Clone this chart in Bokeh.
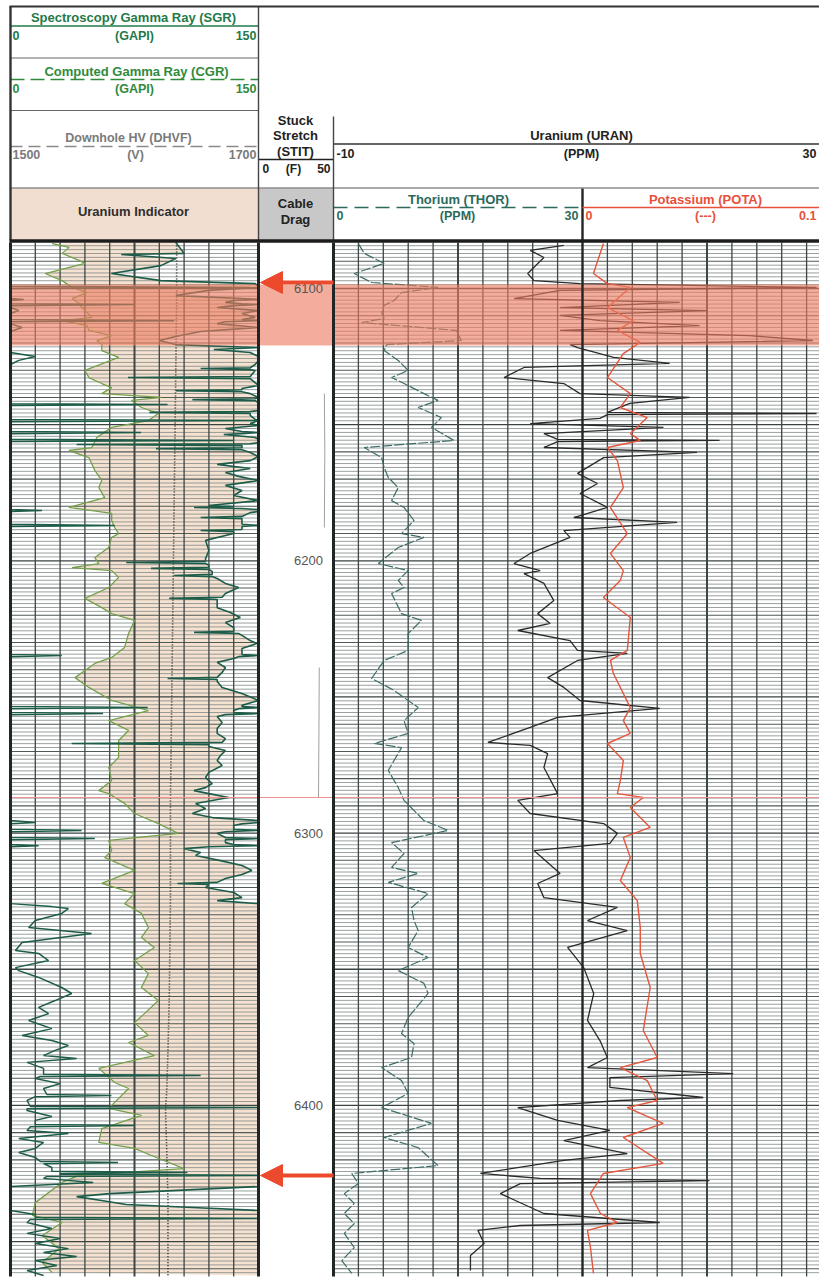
import math
import numpy as np
from bokeh.plotting import figure
from bokeh.models import Range1d, Arrow, NormalHead
from bokeh.core.properties import value
from bokeh.embed import file_html
from bokeh.resources import INLINE

# ---------------- curve readings (depth ft, value) ----------------
SGR_READINGS = [
    (6083.1, 100), (6087.1, 105), (6087.5, 67), (6089.0, 100), (6091.6, 91), (6094.5, 61), (6097.1, 91),
    (6098.2, 148), (6099.2, 150), (6099.6, 295), (6100.0, 140), (6100.7, 120), (6102.6, 100), (6103.7, 140),
    (6104.0, 158), (6104.4, 135), (6105.1, 130), (6105.6, 140), (6105.9, 225), (6106.3, 135), (6107.0, 125),
    (6108.1, 155), (6109.2, 140), (6110.6, 148), (6111.4, 140), (6111.8, 249), (6112.2, 130), (6112.9, 125),
    (6114.3, 157), (6115.8, 115), (6117.6, 100), (6119.1, 90), (6120.6, 100), (6121.7, 150), (6122.4, 123),
    (6123.5, 145), (6125.0, 165), (6126.4, 155), (6127.9, 148), (6129.1, 145), (6129.4, 115), (6129.8, 145),
    (6130.1, 148), (6132.3, 145), (6132.7, 71), (6133.1, 145), (6135.6, 150), (6136.7, 140), (6137.2, 140),
    (6137.5, 100), (6137.9, 140), (6138.6, 145), (6140.0, 150), (6140.5, 148), (6140.8, 110), (6141.2, 148),
    (6141.9, 150), (6142.3, 150), (6142.6, 245), (6143.0, 150), (6144.8, 150), (6145.2, 145), (6145.5, 84),
    (6145.9, 145), (6146.6, 145), (6148.1, 148), (6148.5, 300), (6148.9, 148), (6149.6, 145), (6150.3, 150),
    (6151.4, 130), (6152.5, 140), (6152.9, 229), (6153.3, 140), (6153.6, 129), (6154.7, 148), (6155.4, 150),
    (6155.8, 285), (6156.2, 150), (6156.6, 150), (6157.0, 145), (6157.3, 40), (6157.7, 140), (6158.0, 140),
    (6158.5, 140), (6158.8, 88), (6159.2, 140), (6160.2, 145), (6161.7, 150), (6163.2, 145), (6164.6, 125),
    (6166.1, 145), (6167.6, 130), (6169.0, 138), (6170.5, 150), (6172.3, 130), (6174.2, 140), (6176.0, 135),
    (6177.9, 150), (6179.7, 120), (6180.1, 135), (6180.4, 111), (6180.8, 140), (6181.2, 150), (6181.5, 169),
    (6181.9, 150), (6182.3, 145), (6183.7, 140), (6184.1, 115), (6184.5, 140), (6185.2, 140), (6186.6, 140),
    (6187.0, 213), (6187.4, 140), (6187.8, 140), (6188.5, 140), (6188.9, 115), (6189.3, 135), (6190.0, 135),
    (6192.5, 118), (6196.2, 120), (6199.2, 118), (6200.2, 118), (6200.6, 70), (6201.0, 118), (6201.7, 120),
    (6202.4, 120), (6202.8, 85), (6203.2, 120), (6203.9, 122), (6205.0, 122), (6205.4, 99), (6205.8, 122),
    (6206.5, 125), (6208.3, 130), (6209.8, 138), (6212.0, 130), (6213.4, 128), (6213.8, 96), (6214.2, 125),
    (6215.0, 125), (6217.2, 125), (6219.0, 133), (6220.8, 139), (6222.7, 130), (6224.5, 135), (6225.9, 135),
    (6226.3, 111), (6226.7, 138), (6227.4, 140), (6229.3, 145), (6230.4, 149), (6232.2, 140), (6234.4, 140),
    (6234.8, 181), (6235.2, 138), (6235.9, 135), (6237.3, 125), (6239.2, 130), (6241.0, 128), (6242.8, 125),
    (6243.2, 95), (6243.6, 125), (6244.3, 125), (6246.5, 128), (6248.7, 140), (6251.3, 150), (6253.1, 140),
    (6253.5, 140), (6253.9, 233), (6254.3, 138), (6255.0, 135), (6255.7, 135), (6256.1, 206), (6256.5, 130),
    (6257.2, 125), (6259.4, 128), (6261.6, 125), (6263.4, 125), (6265.3, 130), (6266.7, 128), (6267.1, 37),
    (6267.5, 120), (6268.2, 120), (6269.7, 130), (6271.5, 127), (6273.3, 125), (6275.2, 128), (6277.7, 120),
    (6279.6, 118), (6281.8, 122), (6283.3, 118), (6284.4, 111), (6285.5, 120), (6286.9, 132), (6289.1, 112),
    (6291.0, 118), (6292.8, 110), (6294.3, 122), (6295.4, 150), (6296.1, 165), (6296.6, 140), (6297.2, 135),
    (6298.6, 135), (6299.0, 193), (6299.5, 130), (6300.1, 125), (6301.6, 130), (6302.0, 201), (6302.4, 130),
    (6303.5, 130), (6304.2, 135), (6304.6, 167), (6305.0, 120), (6305.7, 105), (6307.1, 115), (6308.2, 112),
    (6310.1, 127), (6311.9, 140), (6313.7, 146), (6315.2, 140), (6316.7, 130), (6318.1, 125), (6318.5, 101),
    (6318.9, 120), (6320.0, 118), (6321.8, 135), (6323.7, 140), (6324.8, 125), (6325.9, 150), (6327.0, 175),
    (6327.7, 185), (6329.5, 181), (6332.1, 165), (6334.7, 161), (6336.9, 199), (6340.2, 157), (6343.1, 153),
    (6344.2, 167), (6346.8, 173), (6349.4, 153), (6350.5, 155), (6353.0, 167), (6356.7, 181), (6358.9, 187),
    (6361.5, 177), (6364.0, 167), (6366.3, 173), (6368.8, 161), (6371.8, 175), (6374.3, 157), (6376.2, 175),
    (6378.0, 185), (6379.8, 177), (6381.7, 170), (6382.8, 190), (6384.2, 160), (6386.4, 170), (6388.6, 170),
    (6389.0, 265), (6389.4, 168), (6390.1, 165), (6392.0, 180), (6393.8, 170), (6396.0, 172), (6396.4, 211),
    (6396.8, 165), (6398.2, 160), (6400.4, 162), (6400.8, 300), (6401.2, 160), (6401.9, 160), (6404.1, 175),
    (6405.5, 165), (6407.0, 165), (6407.4, 225), (6407.8, 162), (6409.2, 160), (6410.3, 185), (6412.2, 155),
    (6413.6, 170), (6415.8, 165), (6417.3, 155), (6419.1, 165), (6420.6, 168), (6421.0, 215), (6421.4, 170),
    (6422.8, 175), (6424.2, 175), (6424.6, 257), (6425.0, 180), (6425.3, 180), (6425.7, 300), (6426.1, 172),
    (6426.8, 170), (6428.3, 200), (6429.8, 150), (6432.4, 60), (6433.5, 40), (6434.9, 55), (6436.4, 70),
    (6437.5, 110), (6438.6, 150), (6440.1, 165), (6441.1, 165), (6441.5, 300), (6441.9, 162), (6443.0, 160),
    (6445.2, 175), (6447.0, 160), (6448.9, 180), (6450.7, 165), (6452.6, 185), (6454.0, 170), (6455.5, 190),
    (6457.0, 165), (6458.8, 178), (6460.6, 160), (6462.5, 170),
]

CGR_READINGS = [
    (6083.5, 25.2), (6084.9, 35.4), (6087.1, 31.2), (6089.7, 41.4), (6090.8, 45.0), (6094.5, 21.0), (6097.1, 31.2),
    (6099.6, 37.2), (6101.5, 46.2), (6103.7, 37.2), (6105.5, 41.4), (6107.0, 43.2), (6108.8, 46.2), (6110.6, 49.2),
    (6111.8, 31.2), (6113.6, 46.2), (6115.4, 47.4), (6117.3, 61.2), (6119.1, 52.2), (6120.6, 55.2), (6122.8, 55.2),
    (6125.3, 65.4), (6130.1, 45.0), (6132.7, 47.4), (6134.9, 55.2), (6136.4, 61.2), (6138.6, 55.2), (6140.0, 91.2),
    (6141.1, 73.2), (6143.7, 79.2), (6145.9, 89.4), (6148.5, 83.4), (6151.0, 61.2), (6154.7, 52.2), (6158.4, 49.2),
    (6159.5, 35.4), (6162.1, 47.4), (6166.8, 51.0), (6170.5, 55.2), (6173.1, 53.4), (6176.8, 57.0), (6180.4, 35.4),
    (6182.6, 61.2), (6185.2, 61.2), (6187.8, 63.0), (6190.0, 65.4), (6191.4, 61.2), (6195.1, 59.4), (6198.8, 51.0),
    (6201.0, 53.4), (6202.5, 37.2), (6203.6, 61.2), (6206.1, 65.4), (6209.8, 59.4), (6213.8, 45.0), (6217.2, 55.2),
    (6219.4, 61.2), (6221.9, 75.0), (6226.7, 71.4), (6231.8, 69.0), (6235.5, 61.2), (6237.7, 51.0), (6242.9, 39.0),
    (6246.5, 47.4), (6251.3, 61.2), (6255.0, 83.4), (6258.7, 59.4), (6262.3, 71.4), (6266.0, 65.4), (6272.2, 65.4),
    (6275.9, 59.4), (6280.7, 61.2), (6284.4, 53.4), (6285.5, 59.4), (6289.1, 69.0), (6292.8, 75.0), (6296.5, 89.4),
    (6300.1, 101.4), (6302.7, 59.4), (6306.4, 61.2), (6309.0, 57.0), (6313.7, 75.0), (6318.5, 55.2), (6322.2, 75.0),
    (6325.9, 69.0), (6329.5, 79.2), (6334.7, 83.4), (6338.3, 79.2), (6342.0, 87.0), (6346.8, 75.0), (6351.6, 83.4),
    (6356.7, 79.2), (6361.5, 89.4), (6366.3, 81.0), (6369.6, 75.0), (6374.3, 83.4), (6376.9, 71.4), (6381.7, 87.0),
    (6386.4, 53.4), (6391.6, 63.0), (6393.8, 71.4), (6401.1, 59.4), (6403.7, 79.2), (6408.5, 55.2), (6413.6, 53.4),
    (6415.8, 75.0), (6418.4, 85.2), (6423.2, 105.0), (6425.7, 41.4), (6428.3, 31.2), (6435.7, 15.0), (6440.4, 13.2),
    (6443.0, 31.2), (6447.8, 19.2), (6452.6, 29.4), (6457.7, 19.2), (6461.4, 25.2),
]

DHVF_READINGS = [
    (6083.1, 1634), (6104.4, 1634), (6141.1, 1633), (6177.9, 1632), (6214.6, 1631), (6251.3, 1630),
    (6288.0, 1629), (6324.8, 1629), (6361.5, 1628), (6379.8, 1627), (6394.5, 1626), (6401.9, 1625),
    (6416.6, 1626), (6434.9, 1627), (6462.5, 1627),
]

STIT_RUN_1 = [(6138.6, 43.9), (6160.0, 44.2), (6187.8, 43.9)]
STIT_RUN_2 = [(6239.2, 40.5), (6262.0, 40.3), (6286.9, 40.0)]

THOR_READINGS = [
    (6083.5, 3.0), (6087.1, 3.7), (6090.8, 6.1), (6094.5, 2.5), (6097.8, 4.6), (6099.6, 12.6), (6101.5, 8.2),
    (6104.4, 7.3), (6106.2, 6.1), (6108.8, 5.8), (6111.0, 6.1), (6112.5, 3.4), (6115.4, 14.8), (6119.1, 15.4),
    (6120.6, 6.4), (6122.8, 6.1), (6126.4, 7.8), (6130.1, 9.0), (6132.7, 7.0), (6134.9, 8.5), (6138.6, 10.9),
    (6141.1, 12.6), (6143.7, 10.2), (6147.4, 13.0), (6151.0, 11.8), (6155.8, 14.5), (6158.4, 3.7), (6162.1, 5.8),
    (6165.7, 6.1), (6169.4, 6.6), (6173.1, 7.8), (6177.9, 7.0), (6180.4, 8.5), (6185.2, 9.7), (6190.0, 8.2),
    (6191.4, 10.9), (6195.1, 7.8), (6201.0, 5.4), (6203.6, 9.0), (6207.2, 7.8), (6209.8, 8.5), (6212.0, 7.0),
    (6219.4, 8.2), (6221.9, 10.6), (6226.7, 9.0), (6232.9, 9.0), (6236.6, 6.1), (6243.2, 4.6), (6247.6, 7.3),
    (6253.9, 10.2), (6258.7, 8.5), (6263.4, 9.0), (6267.1, 4.9), (6268.6, 8.2), (6277.0, 6.6), (6283.3, 7.8),
    (6288.0, 8.5), (6295.4, 10.9), (6299.0, 13.8), (6303.5, 7.0), (6307.5, 8.5), (6312.6, 7.0), (6314.8, 10.2),
    (6318.1, 6.6), (6322.2, 11.4), (6327.3, 9.4), (6332.1, 9.7), (6335.8, 10.2), (6342.0, 9.0), (6345.7, 11.4),
    (6350.5, 7.8), (6355.2, 10.9), (6358.9, 11.4), (6367.7, 9.0), (6373.6, 8.2), (6377.3, 9.7), (6382.4, 9.4),
    (6386.1, 5.8), (6390.9, 8.2), (6395.6, 9.0), (6400.8, 5.8), (6406.6, 11.8), (6411.8, 6.1), (6415.5, 10.2),
    (6422.1, 12.6), (6425.0, 2.2), (6428.7, 3.0), (6432.4, 1.3), (6436.0, 2.5), (6439.7, 1.3), (6443.4, 2.5),
    (6447.0, 1.3), (6452.2, 2.5), (6457.0, 1.0), (6461.7, 2.2),
]

URAN_READINGS = [
    (6084.2, 8.5), (6086.0, 5.8), (6088.6, 6.9), (6094.5, 5.6), (6097.1, 6.1), (6098.2, 9.8), (6099.6, 28.8),
    (6100.7, 8.2), (6103.7, 4.5), (6105.1, 17.8), (6107.0, 8.2), (6108.1, 20.0), (6109.9, 8.2), (6111.8, 11.4),
    (6113.6, 19.4), (6115.4, 8.2), (6117.3, 23.4), (6119.1, 28.5), (6120.6, 9.0), (6121.7, 9.6), (6125.3, 12.5),
    (6127.5, 17.0), (6129.0, 5.3), (6132.7, 3.7), (6134.9, 8.5), (6138.6, 9.8), (6140.0, 18.6), (6142.2, 13.8),
    (6145.5, 12.0), (6145.9, 28.8), (6146.3, 12.0), (6147.7, 11.4), (6149.6, 5.8), (6151.0, 16.5), (6153.3, 6.9),
    (6155.4, 8.0), (6155.8, 21.0), (6156.2, 8.0), (6158.4, 6.9), (6160.2, 19.2), (6162.1, 11.7), (6167.9, 9.6),
    (6171.6, 11.2), (6175.3, 9.8), (6180.4, 12.0), (6184.1, 9.3), (6185.9, 17.6), (6188.9, 8.5), (6191.4, 9.0),
    (6197.3, 5.8), (6201.0, 4.5), (6203.6, 6.6), (6204.7, 5.3), (6208.3, 6.9), (6214.6, 7.7), (6219.4, 6.4),
    (6223.0, 7.4), (6225.6, 4.8), (6229.3, 9.0), (6232.9, 9.6), (6234.0, 13.6), (6236.6, 9.6), (6242.9, 7.2),
    (6246.5, 8.5), (6251.3, 9.8), (6254.2, 16.2), (6257.5, 8.0), (6261.2, 5.8), (6266.7, 2.4), (6267.8, 5.8),
    (6270.8, 7.2), (6275.9, 6.9), (6285.5, 8.0), (6288.0, 4.8), (6292.8, 5.8), (6296.5, 11.7), (6300.1, 12.8),
    (6303.8, 12.2), (6306.4, 6.1), (6314.8, 8.2), (6318.5, 6.4), (6323.7, 6.9), (6327.3, 12.8), (6332.1, 10.4),
    (6335.8, 13.6), (6342.0, 8.8), (6349.4, 10.1), (6358.9, 10.9), (6368.8, 10.4), (6376.2, 11.4), (6382.4, 12.0),
    (6386.1, 10.4), (6388.3, 22.1), (6389.8, 12.2), (6393.4, 12.2), (6397.1, 19.7), (6398.2, 13.0), (6400.8, 4.8),
    (6405.5, 8.0), (6409.2, 12.2), (6412.9, 8.5), (6417.7, 13.6), (6420.2, 8.5), (6425.0, 1.8), (6426.8, 6.6),
    (6427.6, 20.2), (6428.7, 5.0), (6432.4, 3.4), (6439.7, 6.9), (6443.0, 16.2), (6444.1, 5.0), (6445.9, 1.6),
    (6450.7, 2.1), (6455.1, 1.0), (6460.6, 1.0),
]

POTA_READINGS = [
    (6083.5, .0084), (6094.5, .0044), (6098.2, .0100), (6099.6, .0192), (6107.0, .0100), (6111.8, .0204),
    (6115.4, .0140), (6119.8, .0232), (6123.9, .0164), (6132.7, .0100), (6138.6, .0192), (6143.7, .0152),
    (6147.4, .0260), (6153.3, .0192), (6155.8, .0232), (6158.4, .0100), (6163.2, .0140), (6173.1, .0164),
    (6180.4, .0112), (6190.0, .0180), (6197.3, .0112), (6203.6, .0164), (6207.2, .0152), (6213.5, .0084),
    (6220.8, .0192), (6232.9, .0180), (6236.6, .0112), (6241.4, .0124), (6253.9, .0192), (6258.7, .0164),
    (6263.4, .0192), (6267.1, .0100), (6273.3, .0164), (6280.7, .0152), (6285.5, .0140), (6286.9, .0244),
    (6290.6, .0192), (6297.9, .0272), (6301.6, .0164), (6309.0, .0192), (6317.4, .0152), (6324.8, .0220),
    (6334.7, .0232), (6344.2, .0232), (6356.7, .0272), (6372.5, .0244), (6382.4, .0300), (6386.1, .0152),
    (6390.9, .0260), (6398.2, .0300), (6400.8, .0180), (6406.6, .0324), (6411.8, .0164), (6421.3, .0324),
    (6425.0, .0084), (6432.4, .0032), (6439.7, .0072), (6443.0, .0140), (6445.9, .0020), (6452.2, .0032),
    (6461.7, .0044),
]

DEPTH_LABELS = [6100, 6200, 6300, 6400]

# curve scales (left, right)
GR_SCALE = (0, 150)
DHVF_SCALE = (1500, 1700)
STIT_SCALE = (0, 50)
THOR_SCALE = (0, 30)
URAN_SCALE = (-10, 30)
POTA_SCALE = (0, 0.1)

# ---------------- layout ----------------
W, H = 819, 1281
BODY_TOP, BODY_BOT = 242, 1276
ANCHOR_PX, ANCHOR_D, PX_PER_FT = 288, 6100.0, 2.723
T1 = (10, 258)
TD = (258, 333)
T2 = (333, 582)
T3 = (582, 831)
T23 = (333, 831)

FONT = value("Liberation Sans")
SGR_C, CGR_C = "#1d5c48", "#74a04a"
THOR_C, URAN_C, POTA_C = "#3d6c66", "#2a2a2a", "#e4553b"
PEACH = "#f5e2d1"
RED = "#ec4a2c"
GRID_C = "#3c4644"


def depth_at(px):
    return ANCHOR_D + (px - ANCHOR_PX) / PX_PER_FT


def track_range(scale, span):
    lo, hi = scale
    p0, p1 = span
    s = (hi - lo) / (p1 - p0)
    return Range1d(lo - p0 * s, lo + (W - p0) * s)


def unzip(pairs):
    return (np.array([a for a, _ in pairs], dtype=float),
            np.array([b for _, b in pairs], dtype=float))


p = figure(width=W, height=H, x_range=Range1d(0, W),
           y_range=Range1d(depth_at(H), depth_at(0)),
           output_backend="svg", toolbar_location=None, min_border=0,
           x_axis_location=None, y_axis_location=None,
           background_fill_color="white", border_fill_color="white")
p.grid.visible = False
p.outline_line_color = None
p.extra_y_ranges = {"px": Range1d(H, 0)}
p.extra_x_ranges = {
    "gr": track_range(GR_SCALE, T1),
    "hv": track_range(DHVF_SCALE, T1),
    "st": track_range(STIT_SCALE, TD),
    "th": track_range(THOR_SCALE, T2),
    "ur": track_range(URAN_SCALE, T23),
    "k": track_range(POTA_SCALE, T3),
}


def seg(x0, x1, y0, y1, color, w, dash="solid", rng="px", alpha=1.0):
    p.segment(x0=x0, x1=x1, y0=y0, y1=y1, y_range_name=rng,
              line_color=color, line_width=w, line_dash=dash, line_alpha=alpha)


def txt(x, y, s, color, size="13px", align="center", style="bold"):
    p.text(x=[x], y=[y], text=[s], y_range_name="px", text_font=FONT,
           text_font_size=size, text_font_style=style, text_color=color,
           text_align=align, text_baseline="middle")


sgr_d, sgr_v = unzip(SGR_READINGS)
cgr_d, cgr_v = unzip(CGR_READINGS)
sgr_main = np.clip(sgr_v, GR_SCALE[0], GR_SCALE[1])
sgr_back = np.clip(sgr_v - GR_SCALE[1], GR_SCALE[0], GR_SCALE[1])

# uranium indicator: area between CGR and SGR
p.patch(x=np.concatenate([cgr_v, sgr_main[::-1]]), y=np.concatenate([cgr_d, sgr_d[::-1]]),
        x_range_name="gr", fill_color=PEACH, line_color=None)

# ---------------- depth grid ----------------
d_top, d_bot = depth_at(BODY_TOP), depth_at(BODY_BOT)
MINOR_PER_10 = 7
step = 10.0 / MINOR_PER_10
k0 = math.ceil((d_top - 6000) / step)
k1 = math.floor((d_bot - 6000) / step)
minor = [6000 + k * step for k in range(k0, k1 + 1) if k % MINOR_PER_10 != 0]
tens = [float(d) for d in range(6090, 6470, 10) if d_top < d < d_bot and d % 50 != 0]
fifties = [float(d) for d in range(6100, 6470, 50) if d_top < d < d_bot]
for ys, col, w in ((minor, "#7f8887", 0.8), (tens, "#4f5958", 1.05), (fifties, "#3a4342", 1.3)):
    n = len(ys)
    seg([T1[0]] * n, [T1[1]] * n, ys, ys, col, w, rng="default")
    seg([T23[0]] * n, [W] * n, ys, ys, col, w, rng="default")

# vertical grid
t1_step = (T1[1] - T1[0]) / 10
v1 = [T1[0] + t1_step * k for k in range(1, 10)]
t2_step = (T2[1] - T2[0]) / 10
v2 = [T2[0] + t2_step * k for k in range(1, 20) if k != 10]
heavy = [T1[0] + t1_step * 5, T2[0] + t2_step * 5, T2[0] + t2_step * 15]
light = [x for x in v1 + v2 if x not in heavy]
seg(light, light, [BODY_TOP] * len(light), [BODY_BOT] * len(light), GRID_C, 1.3)
seg(heavy, heavy, [BODY_TOP] * 3, [BODY_BOT] * 3, GRID_C, 2.0)

# ---------------- curves ----------------
d, v = unzip(DHVF_READINGS)
p.line(v, d, x_range_name="hv", line_color="#262626", line_width=1.6, line_dash="1 2")
for run in (STIT_RUN_1, STIT_RUN_2):
    d, v = unzip(run)
    p.line(v, d, x_range_name="st", line_color="#a0a0a0", line_width=1.0)
p.line(cgr_v, cgr_d, x_range_name="gr", line_color=CGR_C, line_width=1.3)
p.line(sgr_back, sgr_d, x_range_name="gr", line_color=SGR_C, line_width=1.5)
p.line(sgr_main, sgr_d, x_range_name="gr", line_color=SGR_C, line_width=1.6)
d, v = unzip(THOR_READINGS)
p.line(v, d, x_range_name="th", line_color=THOR_C, line_width=1.2, line_dash="10 2")
d, v = unzip(URAN_READINGS)
p.line(v, d, x_range_name="ur", line_color=URAN_C, line_width=1.3)
d, v = unzip(POTA_READINGS)
p.line(v, d, x_range_name="k", line_color=POTA_C, line_width=1.4)

# highlighted interval and splice mark
p.quad(left=[T1[0]], right=[W], top=[284], bottom=[345], y_range_name="px",
       fill_color="#ee7a60", fill_alpha=0.62, line_color=None)
seg([T1[0]], [W], [797], [797], "#f09090", 1.2)

# track borders in body
seg([T1[0], TD[0], TD[1]], [T1[0], TD[0], TD[1]], [BODY_TOP] * 3, [BODY_BOT] * 3, "#1f2625", 3.0)
seg([T2[1]], [T2[1]], [188], [BODY_BOT], "#1f2625", 2.4)

# depth labels
p.text(x=[308] * len(DEPTH_LABELS), y=DEPTH_LABELS,
       text=[str(x) for x in DEPTH_LABELS], text_font=FONT, text_font_size="13px",
       text_color="#555555", text_align="center", text_baseline="middle")

# arrows
for ypx in (282, 1175):
    yd = depth_at(ypx)
    p.add_layout(Arrow(end=NormalHead(size=22, fill_color=RED, line_color=RED),
                       x_start=TD[1], y_start=yd, x_end=TD[0] + 2, y_end=yd,
                       line_color=RED, line_width=4))

# ---------------- header ----------------
p.quad(left=[T1[0]], right=[T1[1]], top=[188], bottom=[240], y_range_name="px",
       fill_color="#f2ded1", line_color=None)
p.quad(left=[TD[0]], right=[TD[1]], top=[188], bottom=[240], y_range_name="px",
       fill_color="#c8c8c8", line_color=None)

SGR_H = "#1f7a4a"
CGR_H = "#2f8a3e"
txt(133, 17, "Spectroscopy Gamma Ray (SGR)", SGR_H)
seg([T1[0]], [T1[1]], [25.5], [25.5], SGR_H, 1.6)
txt(12, 35, "0", SGR_H, "12.5px", "left")
txt(134, 35, "(GAPI)", SGR_H, "12.5px")
txt(256, 35, "150", SGR_H, "12.5px", "right")
seg([T1[0]], [T1[1]], [57.5], [57.5], "#666666", 1.0)

txt(136, 71, "Computed Gamma Ray (CGR)", CGR_H)
seg([T1[0]], [T1[1]], [79], [79], CGR_H, 1.6, dash="14 6")
txt(12, 88, "0", CGR_H, "12.5px", "left")
txt(134, 88, "(GAPI)", CGR_H, "12.5px")
txt(256, 88, "150", CGR_H, "12.5px", "right")
seg([T1[0]], [T1[1]], [110], [110], "#666666", 1.0)

txt(128, 137, "Downhole HV (DHVF)", "#7a7a7a", "12.5px")
seg([T1[0]], [T1[1]], [146], [146], "#8a8a8a", 1.4, dash="12 6")
txt(12, 154, "1500", "#7a7a7a", "12.5px", "left")
txt(135, 154, "(V)", "#7a7a7a", "12.5px")
txt(256, 154, "1700", "#7a7a7a", "12.5px", "right")

txt(133, 211, "Uranium Indicator", "#2e2e2e")

txt(295, 120, "Stuck", "#222222")
txt(295, 135, "Stretch", "#222222")
txt(295, 151, "(STIT)", "#222222")
seg([TD[0]], [TD[1]], [159], [159], "#222222", 1.4)
txt(262, 168, "0", "#222222", "12px", "left")
txt(293, 168, "(F)", "#222222", "12px")
txt(330, 168, "50", "#222222", "12px", "right")
txt(295, 203, "Cable", "#222222")
txt(295, 219, "Drag", "#222222")

txt(581, 135, "Uranium (URAN)", "#222222")
seg([TD[1]], [W], [143.5], [143.5], "#333333", 1.5)
txt(336, 153, "-10", "#222222", "12.5px", "left")
txt(581, 153, "(PPM)", "#222222", "12.5px")
txt(816, 153, "30", "#222222", "12.5px", "right")

txt(458, 199, "Thorium (THOR)", "#2b6a5c")
seg([TD[1]], [T2[1]], [207], [207], "#2b6a5c", 1.6, dash="14 7")
txt(336, 215, "0", "#2b6a5c", "12.5px", "left")
txt(457, 215, "(PPM)", "#2b6a5c", "12.5px")
txt(578, 215, "30", "#2b6a5c", "12.5px", "right")

txt(705, 199, "Potassium (POTA)", "#e8503a")
seg([T2[1]], [W], [207], [207], "#e8503a", 1.6)
txt(585, 215, "0", "#e8503a", "12.5px", "left")
txt(705, 215, "(---)", "#e8503a", "12.5px")
txt(816, 215, "0.1", "#e8503a", "12.5px", "right")

# header rules and frame
seg([T1[0]], [W], [187.5], [187.5], "#555555", 1.2)
seg([TD[0]], [TD[0]], [6], [240], "#444444", 1.4)
seg([TD[1]], [TD[1]], [116], [240], "#444444", 1.4)
seg([T1[0] - 1], [W], [6], [6], "#333333", 2.0)
seg([T1[0]], [T1[0]], [6], [240], "#333333", 2.4)
seg([T1[0] - 1], [W], [240.5], [240.5], "#1c1c1c", 3.5)

open("out.html", "w").write(file_html(p, INLINE))
